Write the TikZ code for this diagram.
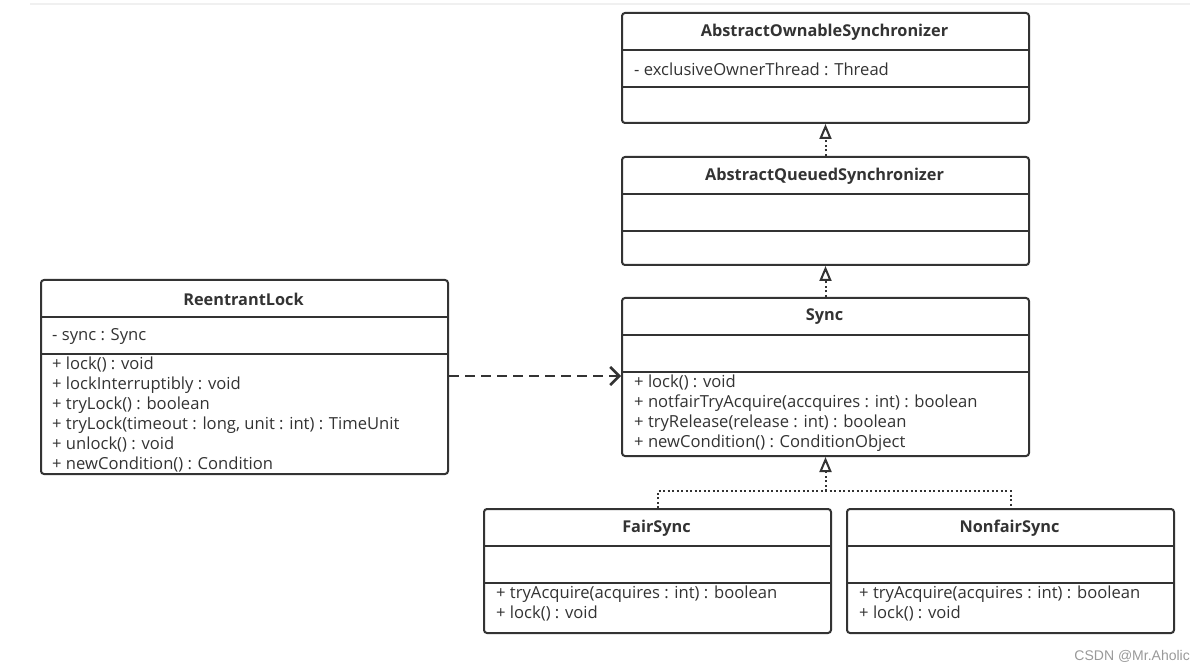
\documentclass[tikz,border=0pt]{standalone}
\usepackage{fontspec}
\setmainfont{Open Sans}
\newfontfamily\wmfont{Liberation Sans}
\usetikzlibrary{arrows.meta}
\definecolor{ink}{HTML}{333333}
\tikzset{
  classbox/.style={draw=ink, line width=2pt, rounded corners=3pt, fill=white, anchor=north west, inner sep=0pt},
  divider/.style={draw=ink, line width=2pt},
  title/.style={font=\fontsize{16.3}{18}\selectfont\bfseries, text=ink, inner sep=0pt},
  member/.style={font=\fontsize{16.6}{20}\selectfont, text=ink, inner sep=0pt, anchor=west, align=left},
  realize/.style={draw=ink, line width=2pt, dash pattern=on 2pt off 2.5pt, -{Triangle[open, length=15pt, width=12pt, line width=2pt]}},
  dotline/.style={draw=ink, line width=2pt, dash pattern=on 2pt off 2.5pt},
  depend/.style={draw=ink, line width=2.5pt, dash pattern=on 10pt off 6pt, -{Straight Barb[length=9pt, width=18pt, line width=2.5pt]}},
}
\begin{document}
\begin{tikzpicture}[x=1pt,y=-1pt]
\useasboundingbox (0,0) rectangle (1203,671);
\draw[draw=black!6, line width=2pt] (30,4) -- (1190,4);

% AbstractOwnableSynchronizer
\node[classbox, minimum width=407pt, minimum height=110pt] (aos) at (621,12) {};
\draw[divider] (621,50) -- (1028,50);
\draw[divider] (621,87) -- (1028,87);
\node[title] (aost) at (824.5,32) {AbstractOwnableSynchronizer};
\node[member] (aosf) at (634,69) {- exclusiveOwnerThread : Thread};

% AbstractQueuedSynchronizer
\node[classbox, minimum width=407pt, minimum height=108pt] (aqs) at (621,156) {};
\draw[divider] (621,194) -- (1028,194);
\draw[divider] (621,231) -- (1028,231);
\node[title] (aqst) at (824.5,176) {AbstractQueuedSynchronizer};

% Sync
\node[classbox, minimum width=407pt, minimum height=158pt] (sync) at (621,297) {};
\draw[divider] (621,335) -- (1028,335);
\draw[divider] (621,372) -- (1028,372);
\node[title] (synct) at (824.5,317) {Sync};
\node[member] (syncm) at (634,413) {+ lock() : void\\+ notfairTryAcquire(accquires : int) : boolean\\+ tryRelease(release : int) : boolean\\+ newCondition() : ConditionObject};

% ReentrantLock
\node[classbox, minimum width=407pt, minimum height=194pt] (rl) at (40,279) {};
\draw[divider] (40,317) -- (447,317);
\draw[divider] (40,354) -- (447,354);
\node[title] (rlt) at (243.5,299) {ReentrantLock};
\node[member] (rlf) at (52,336) {- sync : Sync};
\node[member] (rlm) at (52,415) {+ lock() : void\\+ lockInterruptibly : void\\+ tryLock() : boolean\\+ tryLock(timeout : long, unit : int) : TimeUnit\\+ unlock() : void\\+ newCondition() : Condition};

% FairSync
\node[classbox, minimum width=347pt, minimum height=124pt] (fair) at (483,508) {};
\draw[divider] (483,546) -- (830,546);
\draw[divider] (483,583) -- (830,583);
\node[title] (fairt) at (656.5,528) {FairSync};
\node[member] (fairm) at (496,604) {+ tryAcquire(acquires : int) : boolean\\+ lock() : void};

% NonfairSync
\node[classbox, minimum width=327pt, minimum height=124pt] (nonfair) at (846,508) {};
\draw[divider] (846,546) -- (1173,546);
\draw[divider] (846,583) -- (1173,583);
\node[title] (nonfairt) at (1009.5,528) {NonfairSync};
\node[member] (nonfairm) at (859,604) {+ tryAcquire(acquires : int) : boolean\\+ lock() : void};

% connectors
\draw[realize] (aqs.north) -- (aos.south);
\draw[realize] (sync.north) -- (aqs.south);
\coordinate (jn) at (sync.south |- 0,491);
\draw[dotline] (fair.north) |- (jn) -| (nonfair.north);
\draw[realize] (jn) -- (sync.south);
\coordinate (dstart) at (rl.east |- 0,376);
\coordinate (dend) at (sync.west |- 0,376);
\draw[depend] (dstart) -- (dend);

\node[font=\wmfont\fontsize{14}{16}\selectfont, text=black!40, anchor=east, inner sep=0pt] (wm) at (1190,656) {CSDN @Mr.Aholic};
\end{tikzpicture}
\end{document}
